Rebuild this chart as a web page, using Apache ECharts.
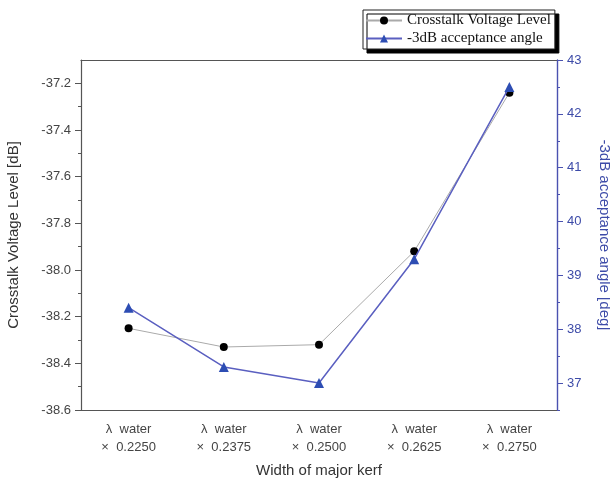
<!DOCTYPE html>
<html><head><meta charset="utf-8">
<script src="https://cdn.jsdelivr.net/npm/echarts@6/dist/echarts.min.js"></script>
<style>html,body{margin:0;padding:0;background:#fff}#c{width:610px;height:482px}</style>
</head><body><div id="c"></div>
<script>
const categories = ['λ  water\n×  0.2250','λ  water\n×  0.2375','λ  water\n×  0.2500','λ  water\n×  0.2625','λ  water\n×  0.2750'];
const crosstalk = [-38.25, -38.33, -38.32, -37.92, -37.24];
const angle = [38.4, 37.3, 37.0, 39.3, 42.5];
const leftTicks = [-38.6, -38.4, -38.2, -38.0, -37.8, -37.6, -37.4, -37.2];
const leftMinor = [-38.5, -38.3, -38.1, -37.9, -37.7, -37.5, -37.3];
const rightTicks = [37, 38, 39, 40, 41, 42, 43];
const rightMinor = [36.5, 37.5, 38.5, 39.5, 40.5, 41.5, 42.5];

const grey = '#555';
const blue = '#4a52b0';
const font = 'Liberation Sans';
const chart = echarts.init(document.getElementById('c'));
chart.setOption({
  animation: false,
  grid: {left: 81, right: 53, top: 60, bottom: 72, containLabel: false, outerBoundsMode: 'none'},
  legend: {
    orient: 'vertical', left: 363, top: 10, padding: [3, 4, 3, 2], itemGap: 3,
    itemWidth: 36, itemHeight: 10,
    backgroundColor: '#fff', borderColor: '#222', borderWidth: 1,
    shadowColor: '#000', shadowOffsetX: 4, shadowOffsetY: 4, shadowBlur: 0,
    textStyle: {fontFamily: 'Liberation Serif', fontSize: 15, color: '#111'},
    data: ['Crosstalk Voltage Level', '-3dB acceptance angle']
  },
  xAxis: [{
    type: 'category', position: 'bottom', data: categories, boundaryGap: true,
    axisLine: {lineStyle: {color: grey, width: 1.2}},
    axisTick: {alignWithLabel: true, length: 6, lineStyle: {color: grey}},
    axisLabel: {color: '#444', fontSize: 13, fontFamily: font, lineHeight: 18, margin: 10},
    name: 'Width of major kerf', nameLocation: 'middle', nameGap: 53,
    nameTextStyle: {fontSize: 15, color: '#333', fontFamily: font},
    splitLine: {show: false}
  }, {
    type: 'category', position: 'top', data: categories, boundaryGap: true,
    axisLine: {lineStyle: {color: grey, width: 1.2}},
    axisTick: {alignWithLabel: true, inside: true, length: 5, lineStyle: {color: grey}},
    axisLabel: {show: false}, splitLine: {show: false}
  }],
  yAxis: [{
    type: 'value', position: 'left', min: -38.6, max: -37.1,
    axisLine: {show: true, lineStyle: {color: grey, width: 1.2}},
    axisTick: {show: true, length: 6, customValues: leftTicks, lineStyle: {color: grey}},
    axisLabel: {customValues: leftTicks, formatter: v => v.toFixed(1), color: '#444', fontSize: 13, fontFamily: font, margin: 10},
    splitLine: {show: false},
    name: 'Crosstalk Voltage Level [dB]', nameLocation: 'middle', nameGap: 60,
    nameTextStyle: {fontSize: 15, color: '#333', fontFamily: font}
  }, {
    type: 'value', position: 'right', min: 36.5, max: 43,
    axisLine: {show: true, lineStyle: {color: blue, width: 1.4}},
    axisTick: {show: true, length: 6, customValues: rightTicks, lineStyle: {color: blue}},
    axisLabel: {customValues: rightTicks, color: '#3d4ba8', fontSize: 13, fontFamily: font, margin: 10},
    splitLine: {show: false},
    name: '-3dB acceptance angle [deg]', nameLocation: 'middle', nameGap: 40, nameRotate: -90,
    nameTextStyle: {fontSize: 15, color: '#3d4ba8', fontFamily: font}
  }, {
    type: 'value', position: 'left', min: -38.6, max: -37.1,
    axisLine: {show: false},
    axisTick: {show: true, length: 3, customValues: leftMinor, lineStyle: {color: grey}},
    axisLabel: {show: false}, splitLine: {show: false}
  }, {
    type: 'value', position: 'right', min: 36.5, max: 43,
    axisLine: {show: false},
    axisTick: {show: true, length: 3, customValues: rightMinor, lineStyle: {color: blue}},
    axisLabel: {show: false}, splitLine: {show: false}
  }],
  series: [{
    name: 'Crosstalk Voltage Level', type: 'line', xAxisIndex: 0, yAxisIndex: 0,
    data: crosstalk, symbol: 'circle', symbolSize: 8,
    itemStyle: {color: '#000'}, lineStyle: {color: '#aaa', width: 1}, z: 3
  }, {
    name: '-3dB acceptance angle', type: 'line', xAxisIndex: 0, yAxisIndex: 1,
    data: angle, symbol: 'triangle', symbolSize: 10,
    itemStyle: {color: '#2d4db3'}, lineStyle: {color: '#5a5fc0', width: 1.5}, z: 4
  }]
});
</script></body></html>
